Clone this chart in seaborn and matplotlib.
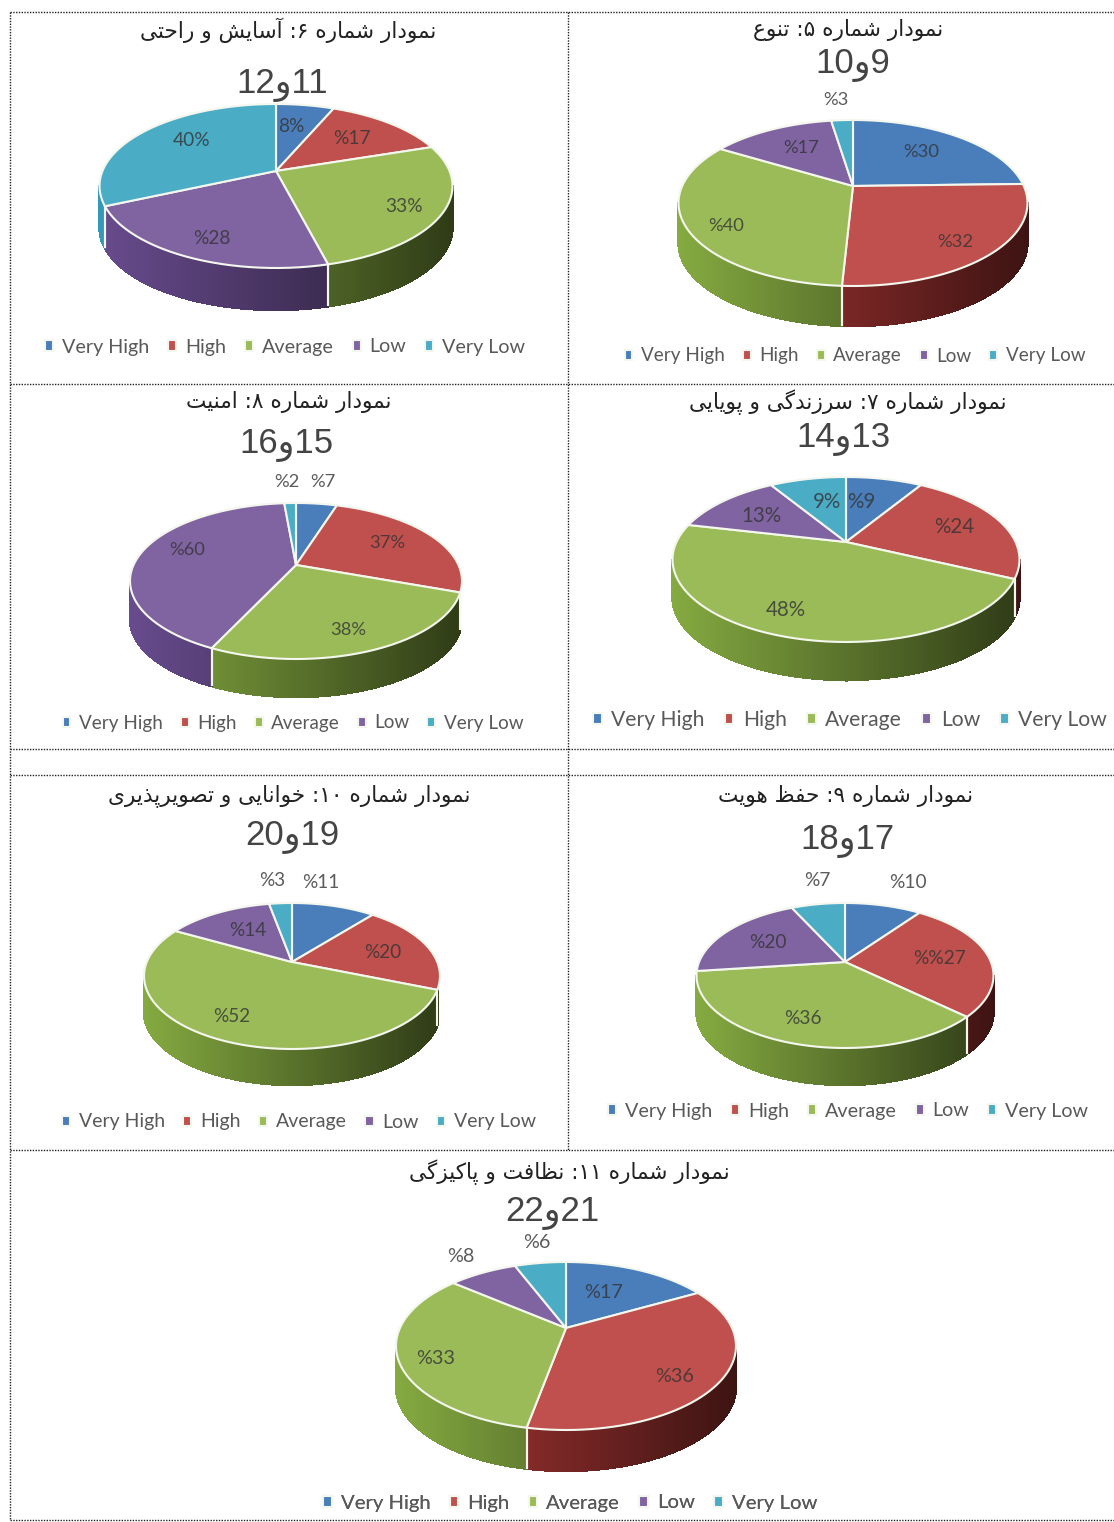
import numpy as np
import matplotlib
matplotlib.use('Agg')
import matplotlib.pyplot as plt
import seaborn as sns
from matplotlib.collections import PolyCollection
from matplotlib.path import Path
from matplotlib.transforms import Transform

levels = ['Very High', 'High', 'Average', 'Low', 'Very Low']

titles = [
    'نمودار شماره ۶: آسایش و راحتی', 'نمودار شماره ۵: تنوع',
    'نمودار شماره ۸: امنیت', 'نمودار شماره ۷: سرزندگی و پویایی',
    'نمودار شماره ۱۰: خوانایی و تصویرپذیری', 'نمودار شماره ۹: حفظ هویت',
    'نمودار شماره ۱۱: نظافت و پاکیزگی',
]
subtitles = ['11و12', '9و10', '15و16', '13و14', '19و20', '17و18', '21و22']

values = [
    [8, 17, 33, 28, 40],
    [30, 32, 40, 17, 3],
    [7, 37, 38, 60, 2],
    [9, 24, 48, 13, 9],
    [11, 20, 52, 14, 3],
    [10, 27, 36, 20, 7],
    [17, 36, 33, 8, 6],
]
slice_labels = [
    ['8%', '%17', '33%', '%28', '40%'],
    ['%30', '%32', '%40', '%17', '%3'],
    ['%7', '37%', '38%', '%60', '%2'],
    ['%9', '%24', '48%', '13%', '9%'],
    ['%11', '%20', '%52', '%14', '%3'],
    ['%10', '%%27', '%36', '%20', '%7'],
    ['%17', '%36', '%33', '%8', '%6'],
]

# layout, all in image pixels
# apex x, apex y, top y, bottom y, left x, right x, wall depth
geometry = [
    (276, 171, 104, 268, 100, 453, 42),
    (853, 186, 120, 286, 679, 1028, 40),
    (296, 565, 503, 659, 130, 462, 38),
    (846, 542, 477, 642, 672, 1019, 38),
    (292, 962, 903, 1049, 144, 440, 36),
    (845, 962, 903, 1048, 698, 995, 37),
    (566, 1328, 1262, 1430, 396, 736, 41),
]
title_pos = [(288, 30), (848, 30), (289, 402), (848, 402), (289, 796), (846, 796), (569, 1172)]
sub_pos = [(282, 85), (853, 65), (286, 445), (843, 440), (292, 837), (847, 842), (552, 1213)]
legend_pos = [(285, 347), (855, 356), (293, 723), (850, 720), (299, 1122), (848, 1111), (570, 1503)]
legend_size = [14.2, 13.6, 13.6, 15.2, 14, 14.2, 14.6]
label_pos = [
    [(291, 127), (352, 138), (404, 207), (212, 238), (192, 141)],
    [(921, 152), (955, 242), (726, 226), (801, 148), (836, 100)],
    [(323, 482), (387, 543), (348, 630), (187, 550), (287, 482)],
    [(861, 502), (954, 527), (786, 610), (761, 516), (827, 502)],
    [(321, 882), (383, 952), (232, 1017), (248, 931), (272, 881)],
    [(908, 882), (940, 958), (803, 1019), (768, 942), (817, 880)],
    [(604, 1292), (675, 1377), (436, 1359), (461, 1256), (537, 1243)],
]

# isolated, final, initial, medial
FORMS = {
    'ا': (0xFE8D, 0xFE8E), 'آ': (0xFE81, 0xFE82), 'د': (0xFEA9, 0xFEAA),
    'ذ': (0xFEAB, 0xFEAC), 'ر': (0xFEAD, 0xFEAE), 'ز': (0xFEAF, 0xFEB0),
    'و': (0xFEED, 0xFEEE), 'ت': (0xFE95, 0xFE96, 0xFE97, 0xFE98),
    'ح': (0xFEA1, 0xFEA2, 0xFEA3, 0xFEA4), 'خ': (0xFEA5, 0xFEA6, 0xFEA7, 0xFEA8),
    'س': (0xFEB1, 0xFEB2, 0xFEB3, 0xFEB4), 'ش': (0xFEB5, 0xFEB6, 0xFEB7, 0xFEB8),
    'ص': (0xFEB9, 0xFEBA, 0xFEBB, 0xFEBC), 'ظ': (0xFEC5, 0xFEC6, 0xFEC7, 0xFEC8),
    'ع': (0xFEC9, 0xFECA, 0xFECB, 0xFECC), 'ف': (0xFED1, 0xFED2, 0xFED3, 0xFED4),
    'م': (0xFEE1, 0xFEE2, 0xFEE3, 0xFEE4), 'ن': (0xFEE5, 0xFEE6, 0xFEE7, 0xFEE8),
    'ه': (0xFEE9, 0xFEEA, 0xFEEB, 0xFEEC), 'پ': (0xFB56, 0xFB57, 0xFB58, 0xFB59),
    'ک': (0xFB8E, 0xFB8F, 0xFB90, 0xFB91), 'گ': (0xFB92, 0xFB93, 0xFB94, 0xFB95),
    'ی': (0xFBFC, 0xFBFD, 0xFBFE, 0xFBFF),
}


def shape(text):
    # matplotlib has no bidi or joining, so pick the forms and lay out right to left
    out = []
    for i, ch in enumerate(text):
        if ch not in FORMS:
            out.append(ch)
            continue
        prev = text[i - 1] if i > 0 else ' '
        nxt = text[i + 1] if i + 1 < len(text) else ' '
        joins_prev = prev in FORMS and len(FORMS[prev]) == 4
        joins_next = nxt in FORMS and len(FORMS[ch]) == 4
        idx = {(False, False): 0, (True, False): 1, (False, True): 2, (True, True): 3}[(joins_prev, joins_next)]
        out.append(chr(FORMS[ch][idx]))
    runs, cur = [], ''
    for ch in out:
        if ch.isdigit():
            cur += ch
        else:
            if cur:
                runs.append(cur)
                cur = ''
            runs.append(ch)
    if cur:
        runs.append(cur)
    return ''.join(reversed(runs))


class TiltedDisk(Transform):
    # unit disk seen from above and in front, farther side is smaller
    input_dims = 2
    output_dims = 2

    def __init__(self, apex_x, apex_y, top, bottom, left, right):
        super().__init__()
        up, down = apex_y - top, bottom - apex_y
        self.p = (down - up) / (down + up)
        self.ry = up * (1 + self.p)
        self.r = (right - left) / 2 * np.sqrt(1 - self.p ** 2)
        self.cx, self.cy = apex_x, apex_y

    def transform_non_affine(self, xy):
        xy = np.asarray(xy, dtype=float)
        w = 1 + self.p * xy[:, 1]
        return np.column_stack([self.cx + self.r * xy[:, 0] / w, self.cy - self.ry * xy[:, 1] / w])

    def transform_path_non_affine(self, path):
        # sample the curves first, control points do not survive a projective map
        pts = [seg(np.linspace(0, 1, 16)) for seg, code in path.iter_bezier()]
        pts = np.vstack(pts + [pts[0][:1]])
        return Path(self.transform_non_affine(pts), closed=True)


def disk_points(tr, angles):
    rad = np.deg2rad(angles)
    return tr.transform_non_affine(np.column_stack([np.cos(rad), np.sin(rad)]))


sns.set_theme(style='white')
plt.rcParams['font.family'] = ['Lato', 'DejaVu Sans']
palette = sns.color_palette(['#4a7ebb', '#c0504d', '#9bbb59', '#8064a2', '#4bacc6'])

fig = plt.figure(figsize=(11.14, 15.22), dpi=100)
ax = fig.add_axes([0, 0, 1, 1])

for i in range(len(values)):
    ax_x, ax_y, top, bottom, left, right, depth = geometry[i]
    tr = TiltedDisk(ax_x, ax_y, top, bottom, left, right)
    wedges, texts = ax.pie(values[i], colors=palette, startangle=90, counterclock=False,
                           wedgeprops={'edgecolor': '#f4f7ee', 'linewidth': 1.5, 'zorder': 3})
    for t in texts:
        t.remove()

    # side wall, only the part that faces the viewer
    lean = np.degrees(np.arcsin(tr.p))
    lo, hi = 180 + lean, 360 - lean
    for w, base in zip(wedges, palette):
        w.set_transform(tr + ax.transData)
        for shift in (-360, 0, 360):
            a, b = max(w.theta1 + shift, lo), min(w.theta2 + shift, hi)
            if b <= a:
                continue
            pts = disk_points(tr, np.linspace(a, b, max(int(b - a) * 2, 3)))
            if abs(pts[-1, 0] - pts[0, 0]) < 3:
                continue
            quads, shades = [], []
            for p0, p1 in zip(pts[:-1], pts[1:]):
                quads.append([p0, p1, p1 + (0, depth), p0 + (0, depth)])
                frac = ((p0[0] + p1[0]) / 2 - left) / (right - left)
                shades.append(np.array(base) ** 1.3 * (1.0 - 0.65 * frac))
            ax.add_collection(PolyCollection(quads, facecolors=shades, edgecolors=shades,
                                             linewidths=1, antialiaseds=False, zorder=1))
            for edge, end in ((a, pts[0]), (b, pts[-1])):
                if lo < edge < hi:
                    ax.plot([end[0], end[0]], [end[1], end[1] + depth], color='#f4f7ee', lw=1.5,
                            zorder=2, solid_capstyle='butt')

    for lab, (x, y) in zip(slice_labels[i], label_pos[i]):
        ax.text(x, y, lab, ha='center', va='center', fontsize=legend_size[i] - 0.4,
                color='#333333', alpha=0.8, zorder=5)

    ax.text(*title_pos[i], shape(titles[i]), ha='center', va='center', fontsize=15.6,
            color='#222222', family=['DejaVu Sans'], zorder=5)
    ax.text(*sub_pos[i], shape(subtitles[i]), ha='center', va='center', fontsize=25,
            color='#444444', family=['Liberation Sans', 'DejaVu Sans'], zorder=5)

    leg = ax.legend(handles=wedges, labels=levels, ncol=5, loc='center', bbox_to_anchor=legend_pos[i],
                    bbox_transform=ax.transData, frameon=False, fontsize=legend_size[i],
                    labelcolor='#595959', handlelength=0.42, handleheight=0.42,
                    handletextpad=0.45, columnspacing=0.95, borderpad=0)
    ax.add_artist(leg)

ax.set_aspect('auto')
ax.set_xlim(0, 1114)
ax.set_ylim(1522, 0)
ax.set_axis_off()

# dotted table rules
rule = dict(colors='#222222', linestyles=(0, (1, 1)), linewidths=1, zorder=6)
ax.hlines([12, 384, 749, 775, 1150, 1520], 10, 1114, **rule)
ax.vlines(10, 12, 1520, **rule)
ax.vlines(568, 12, 1150, **rule)

fig.savefig('out.png', dpi=100)
plt.close(fig)
